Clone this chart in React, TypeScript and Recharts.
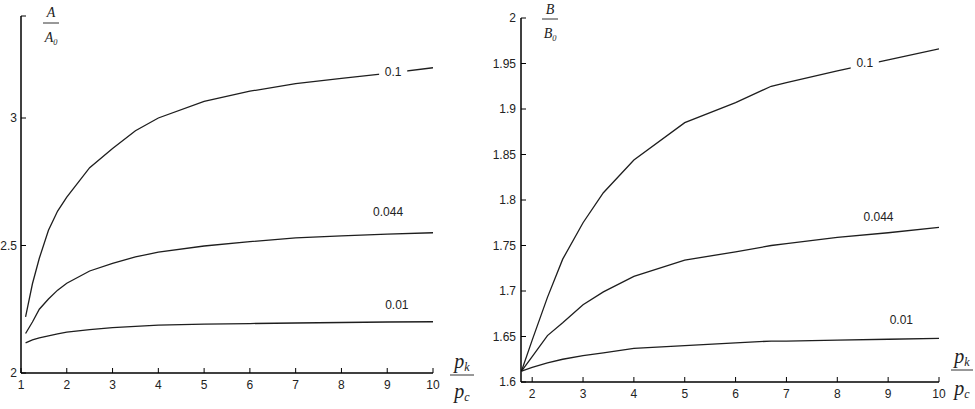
import React from 'react';
import { LineChart, Line, XAxis, YAxis, ReferenceDot } from 'recharts';

// ---- Left chart (A / A0) ----
const leftX = [1.1, 1.25, 1.4, 1.6, 1.8, 2, 2.5, 3, 3.5, 4, 5, 6, 7, 8, 9, 10];
const leftA01 = [2.22, 2.35, 2.45, 2.56, 2.635, 2.69, 2.805, 2.88, 2.95, 3.0, 3.065, 3.105, 3.135, 3.155, 3.175, 3.197];
const leftA0044 = [2.155, 2.2, 2.25, 2.29, 2.325, 2.352, 2.4, 2.43, 2.455, 2.474, 2.498, 2.515, 2.53, 2.538, 2.545, 2.55];
const leftA001 = [2.118, 2.13, 2.138, 2.146, 2.153, 2.16, 2.17, 2.178, 2.183, 2.188, 2.192, 2.194, 2.196, 2.198, 2.2, 2.201];
const leftXTicks = [1, 2, 3, 4, 5, 6, 7, 8, 9, 10];
const leftYTicks = [2, 2.5, 3, 3.4];
const leftLabels = [
  { x: 9.13, y: 3.18, text: '0.1' },
  { x: 9.02, y: 2.631, text: '0.044' },
  { x: 9.21, y: 2.267, text: '0.01' },
];

// ---- Right chart (B / B0) ----
const rightX = [1.79, 2, 2.3, 2.6, 3, 3.4, 4, 5, 6, 6.7, 7, 8, 9, 10];
const rightB01 = [1.612, 1.646, 1.693, 1.735, 1.775, 1.808, 1.844, 1.885, 1.907, 1.925, 1.929, 1.942, 1.954, 1.966];
const rightB0044 = [1.612, 1.628, 1.651, 1.665, 1.685, 1.699, 1.716, 1.734, 1.743, 1.75, 1.752, 1.759, 1.764, 1.77];
const rightB001 = [1.612, 1.616, 1.621, 1.625, 1.629, 1.632, 1.637, 1.64, 1.643, 1.645, 1.645, 1.646, 1.647, 1.648];
const rightXTicks = [2, 3, 4, 5, 6, 7, 8, 9, 10];
const rightYTicks = [1.6, 1.65, 1.7, 1.75, 1.8, 1.85, 1.9, 1.95, 2];
const rightLabels = [
  { x: 8.54, y: 1.951, text: '0.1' },
  { x: 8.81, y: 1.781, text: '0.044' },
  { x: 9.26, y: 1.668, text: '0.01' },
];

const leftData = leftX.map((x, i) => ({ x, a: leftA01[i], b: leftA0044[i], c: leftA001[i] }));
const rightData = rightX.map((x, i) => ({ x, a: rightB01[i], b: rightB0044[i], c: rightB001[i] }));

const TICK_FONT = { fontFamily: 'Liberation Sans, Arial, sans-serif', fontSize: 12, fill: '#222' };
const LINE_COLOR = '#1e1e1e';

const makeLabelShape = (text: string) => (props: any) => {
  const { cx, cy } = props;
  const w = text.length * 6.7 + 8;
  return (
    <g>
      <rect x={cx - w / 2} y={cy - 8} width={w} height={16} fill="#fff" />
      <text x={cx} y={cy + 4} textAnchor="middle" style={TICK_FONT as any}>{text}</text>
    </g>
  );
};

const fmtLeft = (v: number) => (v === 3.4 ? '' : String(v));

function Frac({ cx, topBase, lineY, botBase, lineHalf, main, sub, topSub, size }: any) {
  const style: any = { fontFamily: 'Liberation Serif, Times New Roman, serif', fontStyle: 'italic', fontSize: size, fill: '#222' };
  const subStyle: any = { ...style, fontSize: size * 0.6 };
  return (
    <g>
      <text x={cx} y={topBase} textAnchor="middle" style={style}>
        {main}
        {topSub ? <tspan style={subStyle} dy={3}>{topSub}</tspan> : null}
      </text>
      <line x1={cx - lineHalf} x2={cx + lineHalf} y1={lineY} y2={lineY} stroke="#333" strokeWidth={1} />
      <text x={cx} y={botBase} textAnchor="middle" style={style}>
        {main}
        <tspan style={subStyle} dy={3}>{sub}</tspan>
      </text>
    </g>
  );
}

export default function App() {
  return (
    <div style={{ position: 'absolute', left: 0, top: 0, width: 975, height: 409, background: '#fff', overflow: 'hidden' }}>
      <div style={{ position: 'absolute', left: 0, top: 0 }}>
        <LineChart width={480} height={409} data={leftData} margin={{ top: 16, right: 47, bottom: 0, left: 0 }}>
          <XAxis
            dataKey="x"
            type="number"
            domain={[1, 10]}
            ticks={leftXTicks}
            allowDataOverflow
            height={36}
            tickSize={-5}
            tickMargin={12}
            tick={TICK_FONT}
            axisLine={{ stroke: '#000', strokeWidth: 1.5 }}
            tickLine={{ stroke: '#000' }}
          />
          <YAxis
            type="number"
            domain={[2, 3.4]}
            ticks={leftYTicks}
            allowDataOverflow
            width={21}
            tickSize={-5}
            tickMargin={9}
            tickFormatter={fmtLeft}
            tick={TICK_FONT}
            axisLine={{ stroke: '#000', strokeWidth: 1.5 }}
            tickLine={{ stroke: '#000' }}
          />
          <Line dataKey="a" type="linear" stroke={LINE_COLOR} strokeWidth={1.3} dot={false} isAnimationActive={false} />
          <Line dataKey="b" type="linear" stroke={LINE_COLOR} strokeWidth={1.3} dot={false} isAnimationActive={false} />
          <Line dataKey="c" type="linear" stroke={LINE_COLOR} strokeWidth={1.3} dot={false} isAnimationActive={false} />
          {leftLabels.map((l) => (
            <ReferenceDot key={l.text} x={l.x} y={l.y} r={0} shape={makeLabelShape(l.text)} />
          ))}
        </LineChart>
      </div>
      <div style={{ position: 'absolute', left: 480, top: 0 }}>
        <LineChart width={495} height={409} data={rightData} margin={{ top: 18, right: 36, bottom: 0, left: 0 }}>
          <XAxis
            dataKey="x"
            type="number"
            domain={[1.78, 10]}
            ticks={rightXTicks}
            allowDataOverflow
            height={27}
            tickSize={-5}
            tickMargin={12}
            tick={TICK_FONT}
            axisLine={{ stroke: '#000', strokeWidth: 1.5 }}
            tickLine={{ stroke: '#000' }}
          />
          <YAxis
            type="number"
            domain={[1.6, 2]}
            ticks={rightYTicks}
            allowDataOverflow
            width={41}
            tickSize={-5}
            tickMargin={10}
            tick={TICK_FONT}
            axisLine={{ stroke: '#000', strokeWidth: 1.5 }}
            tickLine={{ stroke: '#000' }}
          />
          <Line dataKey="a" type="linear" stroke={LINE_COLOR} strokeWidth={1.3} dot={false} isAnimationActive={false} />
          <Line dataKey="b" type="linear" stroke={LINE_COLOR} strokeWidth={1.3} dot={false} isAnimationActive={false} />
          <Line dataKey="c" type="linear" stroke={LINE_COLOR} strokeWidth={1.3} dot={false} isAnimationActive={false} />
          {rightLabels.map((l) => (
            <ReferenceDot key={l.text} x={l.x} y={l.y} r={0} shape={makeLabelShape(l.text)} />
          ))}
        </LineChart>
      </div>
      <svg width={975} height={409} style={{ position: 'absolute', left: 0, top: 0, pointerEvents: 'none' }}>
        <Frac cx={51} topBase={17} lineY={23} botBase={42} lineHalf={8} main="A" sub="0" size={14} />
        <Frac cx={550} topBase={14} lineY={19} botBase={38} lineHalf={8} main="B" sub="0" size={14} />
        <Frac cx={462} topBase={368} lineY={375} botBase={398} lineHalf={12} main="p" topSub="k" sub="c" size={20} />
        <Frac cx={962} topBase={363} lineY={370} botBase={395} lineHalf={11} main="p" topSub="k" sub="c" size={20} />
      </svg>
    </div>
  );
}
